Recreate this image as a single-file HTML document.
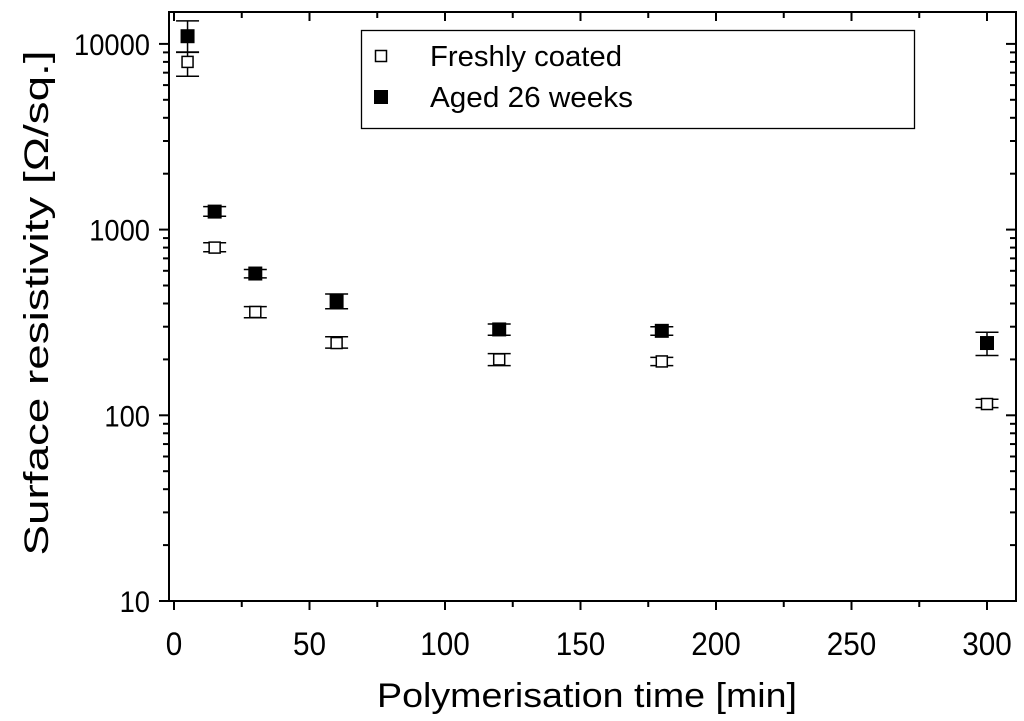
<!DOCTYPE html>
<html><head><meta charset="utf-8"><style>
body{margin:0;background:#fff}
svg{display:block;font-family:"Liberation Sans",Arial,sans-serif}
</style></head><body>
<svg id="chart" width="1024" height="721">
<g id="axes"></g>
<g id="marks"></g>
<g>
<rect x="361.5" y="30.5" width="553" height="98" fill="#fff" stroke="#000" stroke-width="1.3"/>
<rect x="375.5" y="50.5" width="11" height="11" fill="#fff" stroke="#000" stroke-width="1.5"/>
<text x="430" y="66" font-size="29" textLength="192" lengthAdjust="spacingAndGlyphs">Freshly coated</text>
<rect x="374" y="90" width="14" height="14" fill="#000"/>
<text x="430" y="107" font-size="29" textLength="203" lengthAdjust="spacingAndGlyphs">Aged 26 weeks</text>
</g>
<text x="587" y="707" font-size="34" text-anchor="middle" textLength="420" lengthAdjust="spacingAndGlyphs">Polymerisation time [min]</text>
<text transform="translate(48,303) rotate(-90)" font-size="34" text-anchor="middle" textLength="505" lengthAdjust="spacingAndGlyphs">Surface resistivity [Ω/sq.]</text>
</svg>
<script>
const times=[5,15,30,60,120,180,300];
const freshVal=[8000,800,360,245,200,195,115];
const freshLo=[6700,760,335,230,185,185,110];
const freshHi=[9000,850,385,265,215,205,122];
const agedVal=[11000,1250,580,410,290,285,245];
const agedLo=[9050,1180,550,375,270,270,210];
const agedHi=[13300,1330,610,450,310,300,280];
const xTicks=[0,50,100,150,200,250,300];
const yTicks=[10,100,1000,10000];
const NS="http://www.w3.org/2000/svg";
const X0=174,XS=2.71,YB=601,DEC=185.7;
const L=169,R=1016,T=12,B=601;
const xs=v=>X0+v*XS;
const ys=v=>YB-(Math.log10(v)-1)*DEC;
function mk(tag,at,parent){const e=document.createElementNS(NS,tag);for(const k in at)e.setAttribute(k,at[k]);parent.appendChild(e);return e;}
const ax=document.getElementById('axes');
const frame=mk('rect',{x:L,y:T,width:R-L,height:B-T,fill:'none',stroke:'#000','stroke-width':2},ax);


for(let v=0;v<=300;v+=25){
 const major=v%50===0,x=xs(v),len=major?9:6;
 const t=mk('line',{x1:x,x2:x,y1:B,y2:B+len,stroke:'#000','stroke-width':2},ax);
 
 
 const t2=mk('line',{x1:x,x2:x,y1:T,y2:T+len,stroke:'#000','stroke-width':2},ax);
 
 
}
xTicks.forEach(v=>{
 const s=String(v);
 const t=mk('text',{x:xs(v),y:655,'font-size':32,'text-anchor':'middle',textLength:s.length*16.5,lengthAdjust:'spacingAndGlyphs'},ax);t.textContent=s;
 
 
});
for(let d=1;d<=4;d++){
 for(let m=1;m<=9;m++){
  const v=m*Math.pow(10,d);const y=ys(v);if(y<T)continue;
  const len=m===1?10:6;
  const t=mk('line',{x1:L-len,x2:L,y1:y,y2:y,stroke:'#000','stroke-width':2},ax);
  
  
  const t2=mk('line',{x1:R,x2:R-len,y1:y,y2:y,stroke:'#000','stroke-width':2},ax);
  
  
 }
}
yTicks.forEach(v=>{
 const s=String(v);
 const t=mk('text',{x:150,y:ys(v)+11,'font-size':30,'text-anchor':'end',textLength:s.length*15.2,lengthAdjust:'spacingAndGlyphs'},ax);t.textContent=s;
 
 
});
const mg=document.getElementById('marks');
function series(vals,lo,hi,filled,name){
 times.forEach((t,i)=>{
  const x=xs(t),g=mk('g',{},mg);
  
  
  const y1=ys(hi[i]),y2=ys(lo[i]),c=11.5;
  mk('line',{x1:x,x2:x,y1:y1,y2:y2,stroke:'#000','stroke-width':1.5},g);
  mk('line',{x1:x-c,x2:x+c,y1:y1,y2:y1,stroke:'#000','stroke-width':1.5},g);
  mk('line',{x1:x-c,x2:x+c,y1:y2,y2:y2,stroke:'#000','stroke-width':1.5},g);
  const y=ys(vals[i]);
  if(filled)mk('rect',{x:x-7,y:y-7,width:14,height:14,fill:'#000'},g);
  else mk('rect',{x:x-5.5,y:y-5.5,width:11,height:11,fill:'#fff',stroke:'#000','stroke-width':1.5},g);
 });
}
series(freshVal,freshLo,freshHi,false,'fresh');
series(agedVal,agedLo,agedHi,true,'aged');
</script>
</body></html>
